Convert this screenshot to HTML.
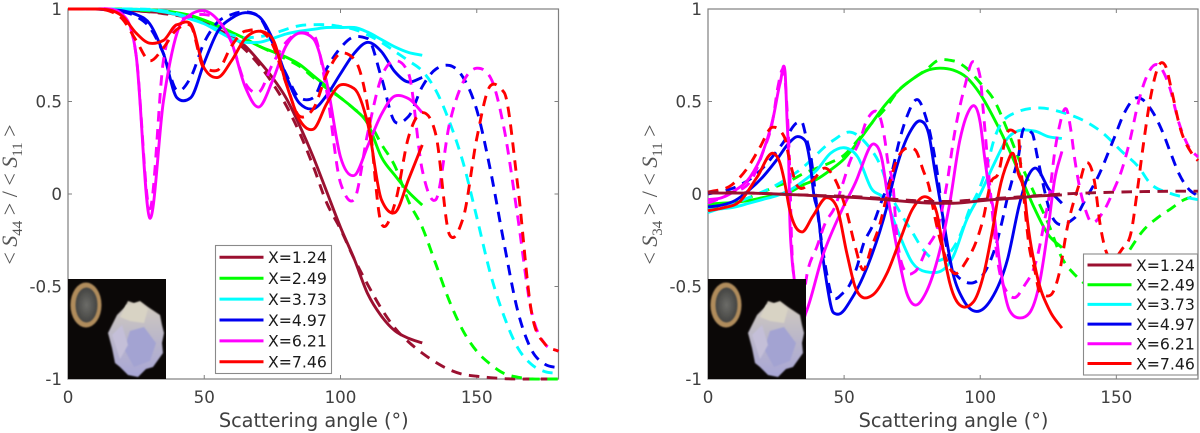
<!DOCTYPE html>
<html lang="en">
<head>
<meta charset="utf-8">
<title>Scattering matrix ratios versus scattering angle</title>
<style>
html,body{margin:0;padding:0;background:#fff;}
svg{display:block;}
text{font-family:"DejaVu Sans","Liberation Sans",sans-serif;}
</style>
</head>
<body>
<svg id="figure" width="1200" height="433" viewBox="0 0 1200 433" xmlns="http://www.w3.org/2000/svg">
<defs>
<linearGradient id="rockFill" x1="0" y1="0" x2="0" y2="1">
<stop offset="0" stop-color="#d2ccbd"/><stop offset="0.45" stop-color="#bcb8c8"/><stop offset="1" stop-color="#a8a6d6"/>
</linearGradient>
<radialGradient id="coinCentre" cx="0.5" cy="0.5" r="0.6">
<stop offset="0" stop-color="#6c6c68"/><stop offset="1" stop-color="#3c3c3a"/>
</radialGradient>
<filter id="soft"><feGaussianBlur stdDeviation="0.7"/></filter>
</defs>
</svg>
<script>
const angleGrid = [0,5,10,15,20,25,30,35,40,45,50,55,60,65,70,75,80,85,90,95,100,105,110,115,120,125,130,135,140,145,150,155,160,165,170,175,180];
const xTickValues = [0,50,100,150];
const yTickValues = [-1,-0.5,0,0.5,1];
const yTickLabels = ['-1','-0.5','0','0.5','1'];
const legendLabels = ['X=1.24','X=2.49','X=3.73','X=4.97','X=6.21','X=7.46'];

/* S44/S11 solid (0-130 deg) and dashed (0-180 deg) */
const s44Solid124 = [1,1,1,1,.995,.99,.985,.98,.97,.955,.93,.89,.85,.8,.72,.63,.52,.37,.2,.01,-.18,-.35,-.54,-.66,-.74,-.78,-.805];
const s44Dashed124 = [1,1,1,1,.995,.99,.985,.975,.965,.95,.925,.885,.84,.78,.7,.6,.48,.33,.15,-.05,-.19,-.35,-.49,-.62,-.725,-.8,-.86,-.91,-.95,-.975,-.985,-.993,-.998,-1,-1,-1,-1];
const s44Solid249 = [1,1,1,1,1,.998,.995,.99,.98,.965,.94,.91,.875,.84,.8,.77,.74,.7,.64,.58,.52,.46,.38,.2,.1,.01,-.06];
const s44Dashed249 = [1,1,1,1,1,.995,.99,.985,.975,.96,.935,.9,.87,.835,.8,.765,.73,.69,.63,.57,.52,.46,.4,.27,.15,-.04,-.18,-.38,-.58,-.74,-.85,-.92,-.97,-.99,-1,-1,-1];
const s44Solid373 = [1,1,1,1,.998,.998,.995,.985,.97,.945,.92,.88,.84,.82,.82,.84,.865,.88,.89,.9,.9,.9,.875,.835,.795,.765,.75];
const s44Dashed373 = [1,1,1,1,1,1,.998,.99,.975,.95,.92,.89,.86,.845,.85,.865,.89,.91,.915,.915,.905,.89,.86,.82,.77,.72,.665,.56,.39,.17,-.125,-.43,-.66,-.83,-.92,-.96,-.97];
const s44Solid497 = [1,1,1,.995,.99,.97,.92,.76,.52,.52,.71,.88,.95,.98,.96,.84,.64,.49,.46,.535,.65,.76,.82,.77,.66,.605,.63];
const s44Dashed497 = [1,1,1,.995,.985,.96,.9,.76,.56,.63,.82,.93,.97,.985,.96,.82,.65,.52,.52,.68,.79,.85,.84,.63,.39,.42,.58,.675,.695,.63,.455,.13,-.265,-.63,-.84,-.92,-.94];
const s44Solid621 = [1,1,1,1,.97,.75,-.13,.5,.87,.97,.99,.94,.82,.58,.47,.61,.8,.87,.84,.6,.2,.1,.26,.43,.53,.515,.44];
const s44Dashed621 = [1,1,1,1,.97,.75,-.08,.72,.92,.96,.97,.94,.82,.6,.55,.7,.82,.87,.86,.55,.06,-.03,.33,.63,.72,.65,.13,-.03,.38,.605,.68,.63,.356,-.12,-.63,-.81,-.85];
const s44Solid746 = [1,1,1,.995,.96,.87,.815,.83,.915,.92,.68,.63,.72,.84,.88,.84,.6,.4,.35,.49,.59,.57,.38,-.03,-.1,.08,.265];
const s44Dashed746 = [1,1,1,.99,.945,.83,.72,.79,.89,.91,.68,.67,.8,.88,.885,.81,.6,.42,.46,.65,.76,.73,.47,-.16,-.05,.31,.44,.32,-.22,-.13,.3,.585,.55,.05,-.63,-.81,-.85];

/* S34/S11 */
const s34Solid124 = [.005,.005,.005,.005,.003,0,-.003,-.006,-.01,-.013,-.016,-.02,-.025,-.03,-.037,-.043,-.048,-.05,-.05,-.045,-.037,-.03,-.025,-.02,-.012,-.008,-.005];
const s34Dashed124 = [.01,.01,.008,.005,.003,0,-.003,-.005,-.008,-.01,-.012,-.015,-.02,-.025,-.03,-.035,-.04,-.04,-.04,-.035,-.03,-.025,-.02,-.015,-.01,-.005,0,.003,.006,.008,.01,.012,.013,.014,.015,.015,.015];
const s34Solid249 = [-.055,-.05,-.045,-.035,-.02,-.005,.01,.05,.08,.13,.19,.28,.38,.48,.56,.62,.665,.68,.67,.63,.54,.41,.26,.09,-.08,-.22,-.29];
const s34Dashed249 = [-.08,-.07,-.05,-.02,.01,.04,.07,.11,.14,.17,.21,.29,.38,.46,.56,.62,.67,.725,.72,.68,.6,.51,.345,.16,0,-.16,-.345,-.44,-.5,-.52,-.43,-.3,-.195,-.13,-.08,-.03,-.01];
const s34Solid373 = [-.085,-.08,-.07,-.05,-.03,-.01,.02,.07,.13,.22,.25,.2,.03,-.03,-.21,-.37,-.42,-.42,-.34,-.14,0,.16,.3,.345,.34,.31,.3];
const s34Angles373 = [0,8,15,26.5,33.7,46,52,58,64,66.8,70,75,79,84.5,89,93,96,100,102.4,105,113,122,130.4,137.6,145,152,158.5,162,169.5,176,180];
const s34Dashed373 = [-.1,-.06,-.02,.06,.13,.29,.335,.275,.13,.005,-.085,-.205,-.3,-.36,-.315,-.21,-.085,.04,.145,.29,.44,.465,.44,.4,.33,.23,.14,.065,.005,-.02,-.03];
const s34SolidAngles497 = [0,5,10,15,20,25,30,32.7,35.6,37.4,39,40.4,42,43.6,46,47.8,53,59.4,65.7,69,74,78,81,83.3,85,86,90,93.7,98.7,104,110,114.5,117,120,125.5,130];
const s34Solid497 = [-.07,-.06,-.035,.02,.09,.18,.28,.31,.29,.18,-.015,-.1,-.32,-.48,-.64,-.65,-.56,-.36,-.07,.13,.33,.395,.33,.13,-.015,-.1,-.43,-.57,-.635,-.57,-.355,-.05,.075,.14,.02,-.05];
const s34Angles497 = [0,10.6,18,27.5,32.7,34.5,36,38,40,42,43.6,45.5,50,54.7,57,60.5,64,66.8,70.5,73,77,80,82,84.6,87,90,92,97.4,103,106,108,110,112,114,115.7,119,121,123.6,125.4,128.4,134.6,139,143,149.4,153,157.4,163.5,167,170,173,177,180];
const s34Dashed497 = [0,.04,.11,.275,.385,.39,.31,.18,-.07,-.285,-.43,-.55,-.53,-.395,-.275,-.17,-.03,.075,.3,.416,.51,.416,.3,.075,-.23,-.41,-.45,-.48,-.385,-.265,-.15,-.02,.09,.2,.345,.33,.2,.02,-.085,-.16,-.13,-.02,.085,.31,.44,.52,.44,.335,.22,.11,.02,-.01];
const s34SolidAngles621 = [0,5,10,15.4,20,24,26.5,28.3,29,29.7,30,30.7,31.7,33,36,42,49.7,54.7,56,61,64,65.7,68,70,73,76,80,84,88.8,92.5,95.5,98,100,101.6,103.5,104.7,107,110.8,114.5,118,121.8,125,127.3,130];
const s34Solid621 = [-.03,-.02,.02,.09,.22,.416,.6,.66,.416,.145,-.1,-.32,-.465,-.72,-.64,-.34,-.07,.08,.13,.27,.18,.02,-.18,-.34,-.535,-.6,-.535,-.37,-.05,.29,.44,.475,.385,.2,.005,-.07,-.355,-.63,-.67,-.645,-.48,-.18,.075,.23];
const s34DashedAngles621 = [0,8,16.5,20,24,25.7,28,29,30,30.7,32,34,36.7,40,43,46.6,49.6,52,55.8,58.7,62.4,65,66,68,69.4,73.4,76,80.7,84.4,87.7,90.6,94.3,97.3,100,101,103.5,106.5,110,112.7,116,120.7,123.7,125.5,127.3,129,131.6,133.3,134.6,136,139,140.6,145,149,152,155,158,161,164.6,169.5,173,176.8,180];
const s34Dashed621 = [-.05,0,.09,.22,.416,.58,.655,.47,.145,-.25,-.5,-.62,-.41,-.285,-.16,-.07,.06,.17,.29,.41,.44,.29,.18,.04,-.23,-.43,-.42,-.285,-.18,.05,.33,.58,.715,.63,.47,.05,-.37,-.535,-.56,-.5,-.355,-.14,.005,.22,.36,.46,.345,.2,.075,-.1,-.15,-.1,.02,.13,.29,.49,.63,.7,.58,.385,.25,.2];
const s34SolidAngles746 = [0,5.5,11.7,18,24,26.5,28,30,34.5,38.5,43.6,47.3,51,54,57,60.6,65.7,70.5,75,80,84,87,88.8,93.7,97.4,101,104.7,107,110,112,114,116.4,117,120.7,125.5,130];
const s34Solid746 = [-.09,-.075,-.04,.09,.22,.165,.075,-.085,-.205,-.12,-.02,-.07,-.32,-.5,-.56,-.545,-.43,-.25,-.085,-.015,-.1,-.355,-.48,-.61,-.585,-.45,-.18,.02,.17,.22,.11,-.015,-.1,-.43,-.63,-.725];
const s34DashedAngles746 = [0,8.8,14.7,19,23.5,28,30,33,38.5,43,47.3,51,54,57,60,63,66.8,69,73.4,76,79,81.5,82.6,86,90.6,95,98.7,101,104,106.6,110,114,114.7,116,118,120,122,126,129,132,136.5,139,142,144,146,148.5,152,155.6,157.4,160,162.6,166.6,168.4,170,173.7,177.7,180];
const s34Dashed746 = [.01,.05,.145,.25,.36,.31,.18,.04,.075,.14,.06,-.1,-.28,-.41,-.29,-.17,.06,.17,.25,.24,.13,.02,-.07,-.285,-.43,-.36,-.25,-.14,.065,.11,.335,.32,.18,-.015,-.285,-.41,-.535,-.545,-.43,-.18,.06,.17,.065,-.16,-.3,-.35,-.3,-.195,-.015,.275,.525,.71,.68,.58,.345,.22,.18];

const NS = 'http://www.w3.org/2000/svg';
const figure = document.getElementById('figure');

function make(tag, attrs, parent) {
  const el = document.createElementNS(NS, tag);
  for (const k in attrs) el.setAttribute(k, attrs[k]);
  (parent || figure).appendChild(el);
  return el;
}

function xScale(panel, angle) { return panel.left + angle * (panel.right - panel.left) / 180; }
function yScale(panel, value) { return panel.bottom - (value + 1) * (panel.bottom - panel.top) / 2; }

/* cubic Hermite path: rounded extrema, limited slopes on monotone runs */
function curve(pts) {
  const n = pts.length, s = [], m = [];
  for (let i = 0; i < n - 1; i++) s.push((pts[i+1][1] - pts[i][1]) / (pts[i+1][0] - pts[i][0]));
  m.push(s[0]);
  for (let i = 1; i < n - 1; i++) {
    const h0 = pts[i][0] - pts[i-1][0], h1 = pts[i+1][0] - pts[i][0];
    const p = (s[i-1] * h1 + s[i] * h0) / (h0 + h1);
    if (s[i-1] * s[i] > 0) {
      const lim = 2.5 * Math.min(Math.abs(s[i-1]), Math.abs(s[i]));
      m.push(Math.sign(p) * Math.min(Math.abs(p), lim));
    } else {
      m.push(p * 0.6);
    }
  }
  m.push(s[n-2]);
  let d = 'M' + pts[0][0].toFixed(2) + ' ' + pts[0][1].toFixed(2);
  for (let i = 0; i < n - 1; i++) {
    const h = (pts[i+1][0] - pts[i][0]) / 3;
    d += 'C' + (pts[i][0] + h).toFixed(2) + ' ' + (pts[i][1] + m[i] * h).toFixed(2) + ' ' +
         (pts[i+1][0] - h).toFixed(2) + ' ' + (pts[i+1][1] - m[i+1] * h).toFixed(2) + ' ' +
         pts[i+1][0].toFixed(2) + ' ' + pts[i+1][1].toFixed(2);
  }
  return d;
}

function drawSeries(panel, color, angles, values, dashed, name) {
  const pts = values.map(function (v, i) { return [xScale(panel, angles[i]), yScale(panel, v)]; });
  const line = make('path', {
    d: curve(pts), fill: 'none', stroke: color, 'stroke-width': 2.9,
    'stroke-linejoin': 'round', 'stroke-dasharray': dashed ? '10.5 7.5' : 'none'
  });
  
  
}

function drawAxes(panel) {
  const box = make('rect', { x: panel.left, y: panel.top, width: panel.right - panel.left, height: panel.bottom - panel.top, fill: 'none', stroke: '#7f7f7f', 'stroke-width': 1.2 });
  
  
  xTickValues.forEach(function (t) {
    const x = xScale(panel, t);
    const lo = make('line', { x1: x, x2: x, y1: panel.bottom, y2: panel.bottom - 4, stroke: '#7f7f7f', 'stroke-width': 1 });
    
    
    const hi = make('line', { x1: x, x2: x, y1: panel.top, y2: panel.top + 4, stroke: '#7f7f7f', 'stroke-width': 1 });
    
    
    const label = make('text', { x: x, y: 403, 'text-anchor': 'middle', 'font-size': 16.7, fill: '#404040' });
    label.textContent = String(t);
    
    
  });
  yTickValues.forEach(function (t, i) {
    const y = yScale(panel, t);
    const lo = make('line', { x1: panel.left, x2: panel.left + 4, y1: y, y2: y, stroke: '#7f7f7f', 'stroke-width': 1 });
    
    
    const hi = make('line', { x1: panel.right, x2: panel.right - 4, y1: y, y2: y, stroke: '#7f7f7f', 'stroke-width': 1 });
    
    
    const label = make('text', { x: panel.left - 6, y: y + 6, 'text-anchor': 'end', 'font-size': 16.7, fill: '#404040' });
    label.textContent = yTickLabels[i];
    
    
  });
  const xt = make('text', { x: (panel.left + panel.right) / 2 + 0.5, y: 427, 'text-anchor': 'middle', 'font-size': 19.3, fill: '#404040' });
  xt.textContent = 'Scattering angle (°)';
  
  
  const yt = make('text', { transform: 'translate(' + panel.titleX + ' 194.5) rotate(-90)', 'text-anchor': 'middle', 'font-size': 22, fill: '#555' });
  
  
  const parts = [['< ', 0, 0], ['S', 0, 1], [panel.sub, 5, 0, 1], [' > / < ', -5, 0], ['S', 0, 1], ['11', 5, 0, 1], [' >', -5, 0]];
  parts.forEach(function (p) {
    const span = make('tspan', { dy: p[1], 'font-family': '"Liberation Serif",serif' }, yt);
    if (p[2]) span.setAttribute('font-style', 'italic');
    if (p[3]) span.setAttribute('font-size', 15);
    span.textContent = p[0];
  });
}

function drawInset(panel, id) {
  const g = make('g', { transform: 'translate(' + panel.left + ' 279)' });
  
  
  make('rect', { width: 98, height: 100, fill: '#0b0807' }, g);
  make('ellipse', { cx: 18, cy: 26, rx: 15.5, ry: 22.5, fill: '#b08c5c', filter: 'url(#soft)' }, g);
  make('ellipse', { cx: 18.5, cy: 26, rx: 11, ry: 17.5, fill: 'url(#coinCentre)', filter: 'url(#soft)' }, g);
  make('polygon', { points: '60,22 66,24 72,22 80,28 92,36 94,46 96,54 94,64 95,74 85,88 78,90 70,98 60,96 52,88 47,84 44,69 40,54 49,36 57,28', fill: 'url(#rockFill)', filter: 'url(#soft)' }, g);
  make('polygon', { points: '58,26 72,24 80,30 76,44 62,42 52,38', fill: '#d8d3c4', filter: 'url(#soft)' }, g);
  make('polygon', { points: '62,52 76,48 88,64 82,82 66,88 56,70', fill: '#a3a3d2', filter: 'url(#soft)' }, g);
  make('polygon', { points: '44,56 54,46 60,66 52,80', fill: '#c4bfd8', filter: 'url(#soft)' }, g);
}

function drawLegend(box, colors) {
  const g = make('g', {});
  
  
  make('rect', { x: box.x, y: box.y, width: box.w, height: box.h, fill: '#fff', stroke: '#8a8a8a', 'stroke-width': 1.1 }, g);
  legendLabels.forEach(function (label, i) {
    const y = box.firstRow + i * box.rowGap;
    const key = make('line', { x1: box.x + 4, x2: box.x + 48, y1: y, y2: y, stroke: colors[i], 'stroke-width': 3 }, g);
    
    
    const text = make('text', { x: box.x + 52.5, y: y + 5.8, 'font-size': 15.7, fill: '#1a1a1a' }, g);
    text.textContent = label;
    
    
  });
}

const seriesColors = ['#9b1030', '#00ff00', '#00ffff', '#0000f0', '#ff00ff', '#ff0000'];
const leftPanel = { id: 's44-panel', left: 68, right: 558.5, top: 9, bottom: 379, titleX: 17, sub: '44' };
const rightPanel = { id: 's34-panel', left: 708, right: 1198, top: 9, bottom: 379, titleX: 657, sub: '34' };

drawAxes(leftPanel);
drawAxes(rightPanel);

drawSeries(leftPanel, seriesColors[0], angleGrid, s44Solid124, false, 's44-solid-x124');
drawSeries(leftPanel, seriesColors[0], angleGrid, s44Dashed124, true, 's44-dashed-x124');
drawSeries(leftPanel, seriesColors[1], angleGrid, s44Solid249, false, 's44-solid-x249');
drawSeries(leftPanel, seriesColors[1], angleGrid, s44Dashed249, true, 's44-dashed-x249');
drawSeries(leftPanel, seriesColors[2], angleGrid, s44Solid373, false, 's44-solid-x373');
drawSeries(leftPanel, seriesColors[2], angleGrid, s44Dashed373, true, 's44-dashed-x373');
drawSeries(leftPanel, seriesColors[3], angleGrid, s44Solid497, false, 's44-solid-x497');
drawSeries(leftPanel, seriesColors[3], angleGrid, s44Dashed497, true, 's44-dashed-x497');
drawSeries(leftPanel, seriesColors[4], angleGrid, s44Solid621, false, 's44-solid-x621');
drawSeries(leftPanel, seriesColors[4], angleGrid, s44Dashed621, true, 's44-dashed-x621');
drawSeries(leftPanel, seriesColors[5], angleGrid, s44Solid746, false, 's44-solid-x746');
drawSeries(leftPanel, seriesColors[5], angleGrid, s44Dashed746, true, 's44-dashed-x746');

drawSeries(rightPanel, seriesColors[1], angleGrid, s34Solid249, false, 's34-solid-x249');
drawSeries(rightPanel, seriesColors[1], angleGrid, s34Dashed249, true, 's34-dashed-x249');
drawSeries(rightPanel, seriesColors[2], angleGrid, s34Solid373, false, 's34-solid-x373');
drawSeries(rightPanel, seriesColors[2], s34Angles373, s34Dashed373, true, 's34-dashed-x373');
drawSeries(rightPanel, seriesColors[3], s34SolidAngles497, s34Solid497, false, 's34-solid-x497');
drawSeries(rightPanel, seriesColors[3], s34Angles497, s34Dashed497, true, 's34-dashed-x497');
drawSeries(rightPanel, seriesColors[4], s34SolidAngles621, s34Solid621, false, 's34-solid-x621');
drawSeries(rightPanel, seriesColors[4], s34DashedAngles621, s34Dashed621, true, 's34-dashed-x621');
drawSeries(rightPanel, seriesColors[5], s34SolidAngles746, s34Solid746, false, 's34-solid-x746');
drawSeries(rightPanel, seriesColors[5], s34DashedAngles746, s34Dashed746, true, 's34-dashed-x746');
drawSeries(rightPanel, seriesColors[0], angleGrid, s34Solid124, false, 's34-solid-x124');
drawSeries(rightPanel, seriesColors[0], angleGrid, s34Dashed124, true, 's34-dashed-x124');

drawInset(leftPanel, 's44');
drawInset(rightPanel, 's34');

drawLegend({ id: 's44', x: 215.5, y: 245.5, w: 116, h: 128, firstRow: 257.3, rowGap: 20.9 }, seriesColors);
drawLegend({ id: 's34', x: 1083.5, y: 254, w: 114, h: 121, firstRow: 265, rowGap: 19.7 }, seriesColors);
</script>
</body>
</html>
